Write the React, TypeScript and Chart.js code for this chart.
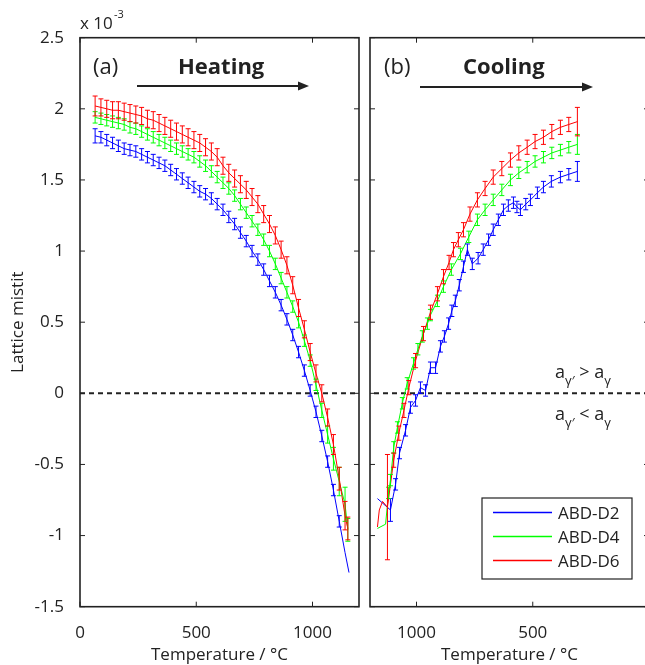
import React, { useEffect, useRef } from "react";
import { Chart, registerables } from "chart.js";

Chart.register(...registerables);

// ---------------- data (lattice misfit in units of 1e-3) ----------------
const X_TICKS_HEAT = [0, 500, 1000];
const X_TICKS_COOL = [1000, 500, 0];
const Y_TICKS = [-1.5, -1, -0.5, 0, 0.5, 1, 1.5, 2, 2.5];
const Y_TICK_LABELS = ["-1.5", "-1", "-0.5", "0", "0.5", "1", "1.5", "2", "2.5"];
const SERIES_NAMES = ["ABD-D2", "ABD-D4", "ABD-D6"];
const ZERO_LINE_T = [0, 1200];
const ZERO_LINE_V = [0, 0];

// Heating
const HEAT_D2_T = [65, 90, 115, 140, 165, 190, 215, 240, 265, 290, 315, 340, 365, 390, 415, 440, 465, 490, 515, 540, 565, 590, 615, 640, 665, 690, 715, 740, 765, 790, 815, 840, 865, 890, 915, 940, 965, 990, 1015, 1040, 1065, 1090, 1115, 1140, 1157];
const HEAT_D2_V = [1.81, 1.80, 1.78, 1.76, 1.74, 1.72, 1.71, 1.70, 1.68, 1.66, 1.64, 1.62, 1.60, 1.57, 1.54, 1.51, 1.48, 1.45, 1.42, 1.40, 1.37, 1.33, 1.29, 1.24, 1.19, 1.13, 1.07, 1.00, 0.94, 0.87, 0.79, 0.71, 0.62, 0.52, 0.41, 0.29, 0.16, 0.02, -0.13, -0.30, -0.48, -0.68, -0.90, -1.12, -1.26];
const HEAT_D2_E = [0.05, 0.04, 0.04, 0.04, 0.04, 0.04, 0.04, 0.04, 0.04, 0.04, 0.04, 0.04, 0.04, 0.04, 0.04, 0.04, 0.04, 0.04, 0.04, 0.04, 0.04, 0.04, 0.04, 0.04, 0.04, 0.04, 0.04, 0.04, 0.04, 0.04, 0.04, 0.04, 0.04, 0.04, 0.04, 0.04, 0.04, 0.04, 0.04, 0.04, 0.04, 0.04, 0.04, 0, 0];

const HEAT_D4_T = [65, 90, 115, 140, 165, 190, 215, 240, 265, 290, 315, 340, 365, 390, 415, 440, 465, 490, 515, 540, 565, 590, 615, 640, 665, 690, 715, 740, 765, 790, 815, 840, 865, 890, 915, 940, 965, 990, 1015, 1040, 1065, 1090, 1115, 1140, 1152];
const HEAT_D4_V = [1.94, 1.93, 1.92, 1.91, 1.90, 1.89, 1.87, 1.86, 1.84, 1.82, 1.80, 1.78, 1.76, 1.74, 1.72, 1.70, 1.68, 1.66, 1.63, 1.60, 1.56, 1.52, 1.48, 1.44, 1.39, 1.33, 1.27, 1.21, 1.15, 1.08, 1.00, 0.91, 0.81, 0.71, 0.61, 0.50, 0.37, 0.23, 0.06, -0.12, -0.29, -0.46, -0.62, -0.78, -0.96];
const HEAT_D4_E = [0.04, 0.04, 0.04, 0.04, 0.04, 0.04, 0.04, 0.04, 0.04, 0.04, 0.04, 0.04, 0.04, 0.04, 0.04, 0.04, 0.04, 0.04, 0.04, 0.04, 0.04, 0.04, 0.04, 0.04, 0.04, 0.04, 0.04, 0.04, 0.04, 0.04, 0.04, 0.04, 0.04, 0.04, 0.04, 0.04, 0.04, 0.04, 0.04, 0.05, 0.06, 0.08, 0.10, 0.12, 0.08];

const HEAT_D6_T = [65, 90, 115, 140, 165, 190, 215, 240, 265, 290, 315, 340, 365, 390, 415, 440, 465, 490, 515, 540, 565, 590, 615, 640, 665, 690, 715, 740, 765, 790, 815, 840, 865, 890, 915, 940, 965, 990, 1015, 1040, 1065, 1090, 1115, 1140, 1152];
const HEAT_D6_V = [2.02, 2.01, 2.00, 1.99, 1.99, 1.98, 1.97, 1.96, 1.95, 1.93, 1.92, 1.90, 1.88, 1.86, 1.84, 1.82, 1.80, 1.78, 1.76, 1.73, 1.70, 1.66, 1.60, 1.55, 1.51, 1.47, 1.43, 1.38, 1.33, 1.26, 1.19, 1.11, 1.01, 0.90, 0.76, 0.60, 0.45, 0.29, 0.14, 0.00, -0.17, -0.36, -0.60, -0.86, -0.95];
const HEAT_D6_E = [0.07, 0.06, 0.06, 0.06, 0.06, 0.06, 0.06, 0.06, 0.06, 0.06, 0.06, 0.06, 0.06, 0.06, 0.06, 0.06, 0.06, 0.06, 0.06, 0.06, 0.06, 0.06, 0.06, 0.06, 0.06, 0.06, 0.06, 0.06, 0.06, 0.06, 0.06, 0.06, 0.06, 0.06, 0.06, 0.06, 0.06, 0.06, 0.06, 0.06, 0.06, 0.07, 0.08, 0.10, 0.08];

// Cooling
const COOL_D2_T = [1168, 1112, 1090, 1073, 1047, 1026, 1004, 983, 961, 940, 918, 897, 880, 862, 848, 833, 816, 798, 781, 760, 735, 713, 690, 670, 648, 626, 605, 583, 568, 553, 530, 510, 480, 454, 420, 381, 345, 308];
const COOL_D2_V = [-0.74, -0.82, -0.64, -0.42, -0.26, -0.10, -0.05, 0.04, 0.02, 0.18, 0.18, 0.33, 0.40, 0.49, 0.58, 0.65, 0.76, 0.89, 1.01, 0.91, 0.95, 1.01, 1.08, 1.15, 1.22, 1.29, 1.32, 1.34, 1.31, 1.29, 1.33, 1.36, 1.41, 1.45, 1.49, 1.52, 1.54, 1.56];
const COOL_D2_E = [0, 0.08, 0.04, 0.04, 0.04, 0.04, 0.04, 0.04, 0.04, 0.04, 0.04, 0.04, 0.04, 0.04, 0.04, 0.04, 0.04, 0.04, 0.04, 0.04, 0.04, 0.04, 0.04, 0.04, 0.04, 0.04, 0.04, 0.04, 0.04, 0.04, 0.04, 0.04, 0.04, 0.04, 0.04, 0.04, 0.04, 0.07];

const COOL_D4_T = [1168, 1133, 1120, 1112, 1098, 1082, 1061, 1040, 1013, 994, 975, 953, 940, 910, 884, 850, 811, 775, 738, 705, 670, 633, 596, 560, 524, 490, 454, 418, 381, 345, 308];
const COOL_D4_V = [-0.95, -0.92, -0.70, -0.61, -0.38, -0.24, -0.07, 0.07, 0.21, 0.31, 0.40, 0.49, 0.55, 0.65, 0.75, 0.87, 0.98, 1.10, 1.22, 1.29, 1.36, 1.43, 1.50, 1.55, 1.59, 1.63, 1.66, 1.69, 1.71, 1.73, 1.75];
const COOL_D4_E = [0, 0, 0.04, 0.04, 0.04, 0.04, 0.04, 0.04, 0.04, 0.04, 0.04, 0.04, 0.04, 0.04, 0.04, 0.04, 0.04, 0.04, 0.04, 0.04, 0.04, 0.04, 0.04, 0.04, 0.04, 0.04, 0.04, 0.04, 0.04, 0.04, 0.07];

const COOL_D6_T = [1168, 1160, 1146, 1125, 1098, 1076, 1054, 1033, 1004, 970, 940, 910, 884, 860, 841, 820, 798, 770, 738, 705, 670, 633, 596, 560, 524, 490, 454, 418, 381, 345, 308];
const COOL_D6_V = [-0.94, -0.82, -0.76, -0.80, -0.47, -0.28, -0.12, 0.04, 0.23, 0.42, 0.57, 0.70, 0.82, 0.92, 1.01, 1.08, 1.15, 1.26, 1.36, 1.44, 1.52, 1.58, 1.64, 1.69, 1.73, 1.77, 1.80, 1.84, 1.87, 1.89, 1.91];
const COOL_D6_E = [0, 0, 0, 0.37, 0.05, 0.05, 0.05, 0.05, 0.05, 0.05, 0.05, 0.05, 0.05, 0.05, 0.05, 0.05, 0.05, 0.05, 0.05, 0.05, 0.05, 0.05, 0.05, 0.05, 0.05, 0.05, 0.05, 0.05, 0.05, 0.05, 0.10];

// ---------------- styles ----------------
const COLORS = ["#0000ff", "#00ff00", "#ff0000"];
const INK = "#222222";
const FONT = "'Open Sans', sans-serif";

const pts = (t: number[], v: number[]) => t.map((x, i) => ({ x, y: v[i] }));

function seriesDatasets(ts: number[][], vs: number[][], es: number[][]) {
  const sets: any[] = ts.map((t, i) => ({
    label: SERIES_NAMES[i],
    data: pts(t, vs[i]),
    errors: es[i],
    borderColor: COLORS[i],
    backgroundColor: COLORS[i],
    borderWidth: 1,
    pointRadius: 0,
    tension: 0,
    order: 3 - i,
  }));
  sets.push({
    label: "zero",
    data: pts(ZERO_LINE_T, ZERO_LINE_V),
    borderColor: INK,
    borderWidth: 2,
    borderDash: [5, 4],
    pointRadius: 0,
    order: 10,
  });
  return sets;
}

const errorBarPlugin = {
  id: "errorBars",
  afterDatasetsDraw(chart: any) {
    const { ctx, chartArea: a, scales } = chart;
    const xs = scales.x;
    const ys = scales.y;
    ctx.save();
    ctx.beginPath();
    ctx.rect(a.left, a.top, a.right - a.left, a.bottom - a.top);
    ctx.clip();
    chart.data.datasets.forEach((ds: any) => {
      if (!ds.errors) return;
      ctx.strokeStyle = ds.borderColor;
      ctx.lineWidth = 1;
      ds.data.forEach((p: any, i: number) => {
        const e = ds.errors[i];
        if (!e) return;
        const x = xs.getPixelForValue(p.x);
        const y1 = ys.getPixelForValue(p.y - e);
        const y2 = ys.getPixelForValue(p.y + e);
        ctx.beginPath();
        ctx.moveTo(x, y1);
        ctx.lineTo(x, y2);
        ctx.moveTo(x - 2.5, y1);
        ctx.lineTo(x + 2.5, y1);
        ctx.moveTo(x - 2.5, y2);
        ctx.lineTo(x + 2.5, y2);
        ctx.stroke();
      });
    });
    ctx.restore();
  },
};

const framePlugin = {
  id: "frame",
  afterDraw(chart: any) {
    const { ctx, chartArea: a, scales } = chart;
    const xs = scales.x;
    const ys = scales.y;
    ctx.save();
    ctx.strokeStyle = INK;
    ctx.lineWidth = 1;
    ctx.beginPath();
    xs.ticks.forEach((t: any) => {
      const px = xs.getPixelForValue(t.value);
      ctx.moveTo(px, a.bottom);
      ctx.lineTo(px, a.bottom - 5);
      ctx.moveTo(px, a.top);
      ctx.lineTo(px, a.top + 5);
    });
    ys.ticks.forEach((t: any) => {
      const py = ys.getPixelForValue(t.value);
      ctx.moveTo(a.left, py);
      ctx.lineTo(a.left + 5, py);
      ctx.moveTo(a.right, py);
      ctx.lineTo(a.right - 5, py);
    });
    ctx.stroke();
    ctx.lineWidth = 1.6;
    ctx.strokeRect(a.left, a.top, a.right - a.left, a.bottom - a.top);
    ctx.restore();
  },
};

function drawArrow(ctx: CanvasRenderingContext2D, x1: number, x2: number, y: number) {
  ctx.save();
  ctx.strokeStyle = INK;
  ctx.fillStyle = INK;
  ctx.lineWidth = 2;
  ctx.beginPath();
  ctx.moveTo(x1, y);
  ctx.lineTo(x2 - 8, y);
  ctx.stroke();
  ctx.beginPath();
  ctx.moveTo(x2 - 11, y - 4.5);
  ctx.lineTo(x2, y);
  ctx.lineTo(x2 - 11, y + 4.5);
  ctx.closePath();
  ctx.fill();
  ctx.restore();
}

function drawSubText(ctx: CanvasRenderingContext2D, x: number, y: number, parts: [string, boolean][]) {
  let cx = x;
  parts.forEach(([s, sub]) => {
    ctx.font = sub ? `13px ${FONT}` : `18px ${FONT}`;
    ctx.fillText(s, cx, sub ? y + 7 : y);
    cx += ctx.measureText(s).width;
  });
}

function baseOptions(xTicks: number[], reverse: boolean, showY: boolean, padRight: number) {
  return {
    animation: false,
    responsive: false,
    devicePixelRatio: 1,
    layout: { padding: { left: 0, right: padRight, top: 37.7, bottom: 0 } },
    plugins: { legend: { display: false }, tooltip: { enabled: false } },
    scales: {
      x: {
        type: "linear",
        min: 0,
        max: 1200,
        reverse,
        afterBuildTicks: (s: any) => {
          s.ticks = xTicks.map((v) => ({ value: v }));
        },
        afterFit: (s: any) => {
          s.height = 58.3;
        },
        grid: { display: false },
        border: { display: false },
        ticks: {
          padding: 8,
          autoSkip: false,
          maxRotation: 0,
          color: INK,
          font: { family: FONT, size: 17 },
          callback: (v: any) => String(v),
        },
        title: {
          display: true,
          text: "Temperature / °C",
          color: INK,
          font: { family: FONT, size: 17 },
          padding: { top: 0, bottom: 0 },
        },
      },
      y: {
        type: "linear",
        min: -1.5,
        max: 2.5,
        afterBuildTicks: (s: any) => {
          s.ticks = Y_TICKS.map((v) => ({ value: v }));
        },
        afterFit: (s: any) => {
          s.width = showY ? 80 : 8;
        },
        grid: { display: false },
        border: { display: false },
        ticks: {
          display: showY,
          padding: 8,
          color: INK,
          font: { family: FONT, size: 17 },
          callback: (v: any) => Y_TICK_LABELS[Y_TICKS.indexOf(v)] ?? String(v),
        },
        title: {
          display: showY,
          text: "Lattice mistit",
          color: INK,
          font: { family: FONT, size: 17 },
          padding: { top: 8, bottom: 0 },
        },
      },
    },
  };
}

const B_LEFT = 362;

export default function App() {
  const refA = useRef<HTMLCanvasElement>(null);
  const refB = useRef<HTMLCanvasElement>(null);

  useEffect(() => {
    const annotA = {
      id: "annotA",
      afterDraw(chart: any) {
        const ctx = chart.ctx as CanvasRenderingContext2D;
        ctx.save();
        ctx.fillStyle = INK;
        ctx.textAlign = "left";
        ctx.textBaseline = "alphabetic";
        ctx.font = `17px ${FONT}`;
        ctx.fillText("x 10", 80, 28.5);
        ctx.font = `11px ${FONT}`;
        ctx.fillText("-3", 114, 18);
        ctx.font = `22px ${FONT}`;
        ctx.fillText("(a)", 93, 74);
        ctx.font = `bold 22px ${FONT}`;
        ctx.fillText("Heating", 178, 74);
        ctx.restore();
        drawArrow(ctx, 137, 309, 86);
      },
    };

    const annotB = {
      id: "annotB",
      afterDraw(chart: any) {
        const ctx = chart.ctx as CanvasRenderingContext2D;
        const o = B_LEFT;
        ctx.save();
        ctx.fillStyle = INK;
        ctx.textAlign = "left";
        ctx.textBaseline = "alphabetic";
        ctx.font = `22px ${FONT}`;
        ctx.fillText("(b)", 384 - o, 74);
        ctx.font = `bold 22px ${FONT}`;
        ctx.fillText("Cooling", 463 - o, 74);
        drawSubText(ctx, 555 - o, 378, [["a", false], ["γ′", true], [" > a", false], ["γ", true]]);
        drawSubText(ctx, 555 - o, 420, [["a", false], ["γ′", true], [" < a", false], ["γ", true]]);

        // legend
        ctx.strokeStyle = INK;
        ctx.lineWidth = 1.2;
        ctx.fillStyle = "#ffffff";
        ctx.fillRect(482 - o, 498, 150, 81);
        ctx.strokeRect(482 - o, 498, 150, 81);
        const items = chart.data.datasets.filter((d: any) => SERIES_NAMES.includes(d.label));
        items.forEach((d: any, i: number) => {
          const ly = 512.5 + i * 24;
          ctx.strokeStyle = d.borderColor;
          ctx.lineWidth = 1.5;
          ctx.beginPath();
          ctx.moveTo(493 - o, ly);
          ctx.lineTo(552 - o, ly);
          ctx.stroke();
          ctx.fillStyle = INK;
          ctx.font = `17px ${FONT}`;
          ctx.fillText(d.label, 558 - o, ly + 6.5);
        });
        ctx.restore();
        drawArrow(ctx, 420 - o, 593 - o, 87);
      },
    };

    const a = new Chart(refA.current as HTMLCanvasElement, {
      type: "line",
      data: {
        datasets: seriesDatasets(
          [HEAT_D2_T, HEAT_D4_T, HEAT_D6_T],
          [HEAT_D2_V, HEAT_D4_V, HEAT_D6_V],
          [HEAT_D2_E, HEAT_D4_E, HEAT_D6_E]
        ),
      },
      options: baseOptions(X_TICKS_HEAT, false, true, 3) as any,
      plugins: [errorBarPlugin, framePlugin, annotA],
    });

    const b = new Chart(refB.current as HTMLCanvasElement, {
      type: "line",
      data: {
        datasets: seriesDatasets(
          [COOL_D2_T, COOL_D4_T, COOL_D6_T],
          [COOL_D2_V, COOL_D4_V, COOL_D6_V],
          [COOL_D2_E, COOL_D4_E, COOL_D6_E]
        ),
      },
      options: baseOptions(X_TICKS_COOL, true, false, 16) as any,
      plugins: [errorBarPlugin, framePlugin, annotB],
    });

    return () => {
      a.destroy();
      b.destroy();
    };
  }, []);

  return (
    <div
      style={{
        position: "absolute",
        left: 0,
        top: 0,
        width: 645,
        height: 665,
        overflow: "hidden",
        background: "#ffffff",
      }}
    >
      <canvas
        ref={refA}
        width={362}
        height={665}
        style={{ position: "absolute", left: 0, top: 0, width: 362, height: 665 }}
      />
      <canvas
        ref={refB}
        width={303}
        height={665}
        style={{ position: "absolute", left: B_LEFT, top: 0, width: 303, height: 665 }}
      />
    </div>
  );
}
